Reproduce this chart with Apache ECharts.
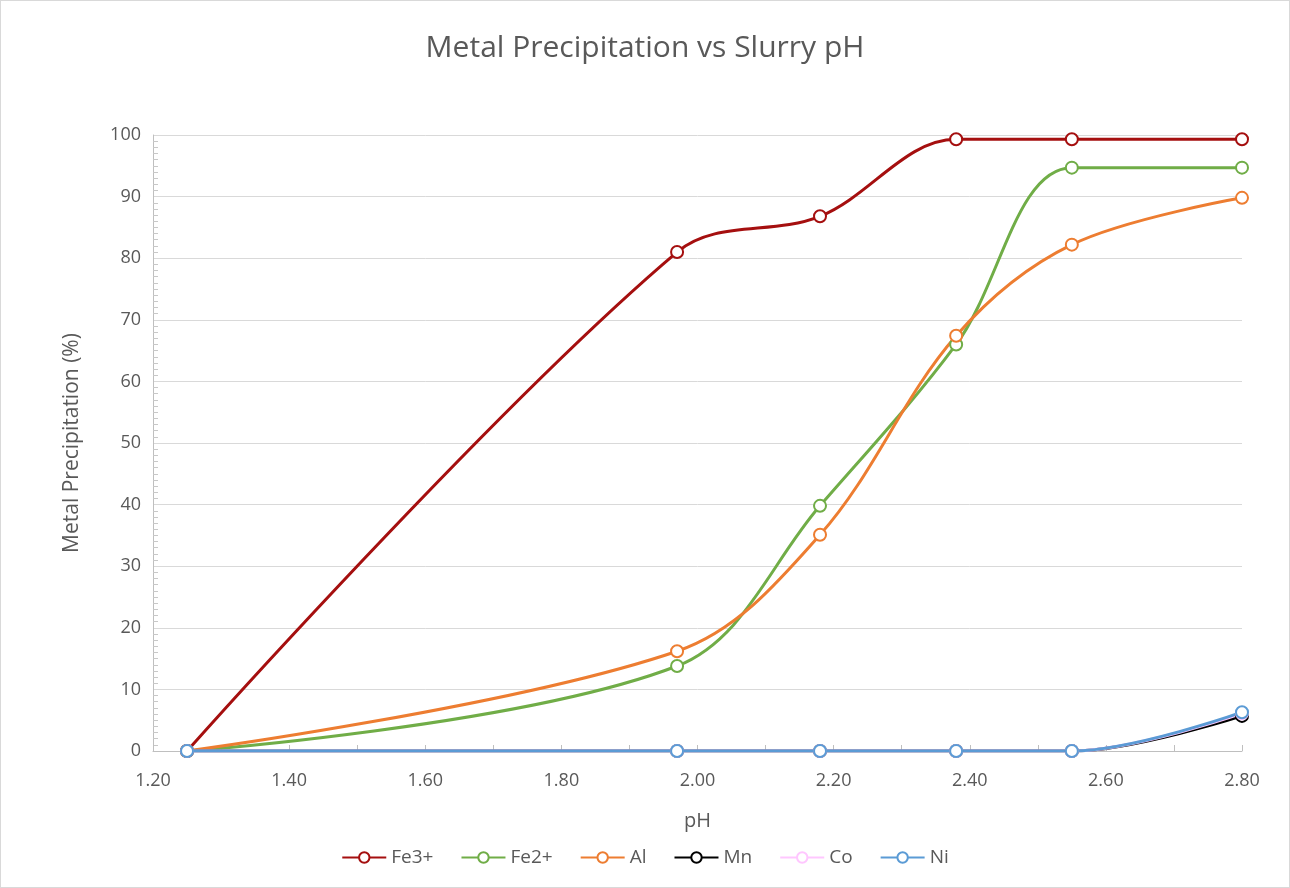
<!DOCTYPE html>
<html>
<head>
<meta charset="utf-8">
<script src="https://cdn.jsdelivr.net/npm/echarts@6/dist/echarts.min.js"></script>
<style>
  html, body { margin: 0; padding: 0; background: #fff; }
  #chart { width: 1290px; height: 888px; box-sizing: border-box; border: 1px solid #d9d9d9; }
</style>
</head>
<body>
<div id="chart"></div>
<script>
// pH values where samples were taken
const phValues = [1.25, 1.97, 2.18, 2.38, 2.55, 2.80]

// precipitation (%) per metal
const fe3 = [0, 81, 86.8, 99.3, 99.3, 99.3]
const fe2 = [0, 13.8, 39.8, 66, 94.7, 94.7]
const al = [0, 16.2, 35.1, 67.4, 82.2, 89.8]
const mn = [0, 0, 0, 0, 0, 5.7]
const co = [0, 0, 0, 0, 0, 6.1]
const ni = [0, 0, 0, 0, 0, 6.3]

const seriesDefs = [
  { name: 'Fe3+', values: fe3, color: '#A50F0F' },
  { name: 'Fe2+', values: fe2, color: '#70AD47' },
  { name: 'Al', values: al, color: '#ED7D31' },
  { name: 'Mn', values: mn, color: '#000000' },
  { name: 'Co', values: co, color: '#FFC7FF' },
  { name: 'Ni', values: ni, color: '#5B9BD5' }
]

const textColor = '#595959'
const fontFamily = '"Open Sans", "Noto Sans", sans-serif'

const chart = echarts.init(document.getElementById('chart'))

const option = {
  animation: false,
  title: {
    text: 'Metal Precipitation vs Slurry pH',
    left: 'center',
    top: 27,
    textStyle: { fontSize: 30, fontWeight: 'normal', color: textColor, fontFamily }
  },
  legend: {
    bottom: 15,
    left: 'center',
    itemWidth: 44,
    itemHeight: 13,
    itemGap: 27,
    textStyle: { fontSize: 19, color: textColor, fontFamily },
    data: seriesDefs.map(s => s.name)
  },
  grid: { left: 152, right: 47, top: 134, bottom: 136 },
  xAxis: {
    type: 'value',
    min: 1.2,
    max: 2.8,
    interval: 0.2,
    name: 'pH',
    nameLocation: 'middle',
    nameGap: 60,
    nameTextStyle: { fontSize: 20, color: textColor, fontFamily },
    axisLine: { show: true, lineStyle: { color: '#bfbfbf' } },
    axisTick: { show: true, inside: true, length: 6, lineStyle: { color: '#bfbfbf' } },
    minorTick: { show: true, splitNumber: 2, length: 6, lineStyle: { color: '#bfbfbf' } },
    axisLabel: { fontSize: 18, color: textColor, fontFamily, margin: 21, formatter: v => v.toFixed(2) },
    splitLine: { show: false }
  },
  yAxis: {
    type: 'value',
    min: 0,
    max: 100,
    interval: 10,
    name: 'Metal Precipitation (%)',
    nameLocation: 'middle',
    nameGap: 70,
    nameTextStyle: { fontSize: 21, color: textColor, fontFamily },
    axisLine: { show: true, lineStyle: { color: '#bfbfbf' } },
    axisTick: { show: false, inside: true },
    minorTick: { show: true, splitNumber: 10, length: 5, lineStyle: { color: '#c8c8c8' } },
    axisLabel: { fontSize: 18, color: textColor, fontFamily, margin: 12 },
    splitLine: { show: true, lineStyle: { color: '#d9d9d9' } }
  },
  series: seriesDefs.map(s => ({
    name: s.name,
    type: 'line',
    smooth: 0.35,
    symbol: 'circle',
    symbolSize: 12,
    color: s.color,
    lineStyle: { width: 3, color: s.color },
    itemStyle: { color: '#fff', borderColor: s.color, borderWidth: 2 },
    data: phValues.map((x, i) => [x, s.values[i]])
  }))
}

chart.setOption(option)
</script>
</body>
</html>
